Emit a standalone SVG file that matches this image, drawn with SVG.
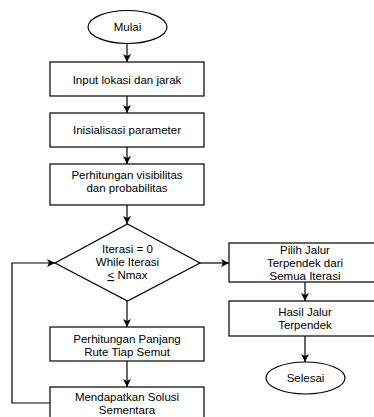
<svg xmlns="http://www.w3.org/2000/svg" width="374" height="417" viewBox="0 0 374 417">
<defs>
<style>
.s{fill:#fff;stroke:#000;stroke-width:1.2}
.t{font-family:"Liberation Sans",Arial,sans-serif;font-size:11.5px;fill:#000;text-anchor:middle}
.c{fill:none;stroke:#000;stroke-width:1.2}
</style>
<marker id="a" viewBox="0 0 10 10" refX="10" refY="5" markerWidth="8" markerHeight="8" markerUnits="userSpaceOnUse" orient="auto">
<path d="M0,0 L10,5 L0,10 L2.5,5 Z" fill="#000"/>
</marker>
</defs>
<rect width="374" height="417" fill="#fff"/>
<g id="connectors">
<path class="c" d="M127,43 V62" marker-end="url(#a)"/>
<path class="c" d="M127,96 V113" marker-end="url(#a)"/>
<path class="c" d="M127,147 V164" marker-end="url(#a)"/>
<path class="c" d="M127,205 V224" marker-end="url(#a)"/>
<path class="c" d="M127,301 V327" marker-end="url(#a)"/>
<path class="c" d="M127,361 V387" marker-end="url(#a)"/>
<path class="c" d="M200,263 H229" marker-end="url(#a)"/>
<path class="c" d="M305,282 V301" marker-end="url(#a)"/>
<path class="c" d="M305,336 V362" marker-end="url(#a)"/>
<path class="c" d="M50,403 H12 V263 H55" marker-end="url(#a)"/>
</g>
<g id="mulai">
<ellipse class="s" cx="127.5" cy="27" rx="39.5" ry="16.5"/>
<text class="t" x="127.5" y="31">Mulai</text>
</g>
<g id="input">
<rect class="s" x="50" y="62" width="154" height="34"/>
<text class="t" x="127" y="83.5">Input lokasi dan jarak</text>
</g>
<g id="inisialisasi">
<rect class="s" x="50" y="113" width="154" height="34"/>
<text class="t" x="127" y="133.5">Inisialisasi parameter</text>
</g>
<g id="perhitungan-vis">
<rect class="s" x="50" y="164" width="154" height="41"/>
<text class="t" x="127" y="178.5">Perhitungan visibilitas</text>
<text class="t" x="127" y="191.5">dan probabilitas</text>
</g>
<g id="iterasi">
<polygon class="s" points="127.5,224 200,263 127.5,301 55,263"/>
<text class="t" x="127.5" y="253">Iterasi = 0</text>
<text class="t" x="127.5" y="266">While Iterasi</text>
<text class="t" x="127.5" y="279"><tspan text-decoration="underline">&lt;</tspan> Nmax</text>
</g>
<g id="panjang-rute">
<rect class="s" x="50" y="327" width="154" height="34"/>
<text class="t" x="127" y="342.5">Perhitungan Panjang</text>
<text class="t" x="127" y="355.5">Rute Tiap Semut</text>
</g>
<g id="solusi">
<rect class="s" x="50" y="387" width="154" height="40"/>
<text class="t" x="127" y="401">Mendapatkan Solusi</text>
<text class="t" x="127" y="414">Sementara</text>
</g>
<g id="pilih">
<rect class="s" x="229" y="243" width="152" height="39"/>
<text class="t" x="305" y="253.5">Pilih Jalur</text>
<text class="t" x="305" y="266.5">Terpendek dari</text>
<text class="t" x="305" y="279.5">Semua Iterasi</text>
</g>
<g id="hasil">
<rect class="s" x="229" y="301" width="152" height="35"/>
<text class="t" x="305" y="315.5">Hasil Jalur</text>
<text class="t" x="305" y="328.5">Terpendek</text>
</g>
<g id="selesai">
<ellipse class="s" cx="305.5" cy="378" rx="39.5" ry="16"/>
<text class="t" x="305.5" y="382">Selesai</text>
</g>
</svg>
